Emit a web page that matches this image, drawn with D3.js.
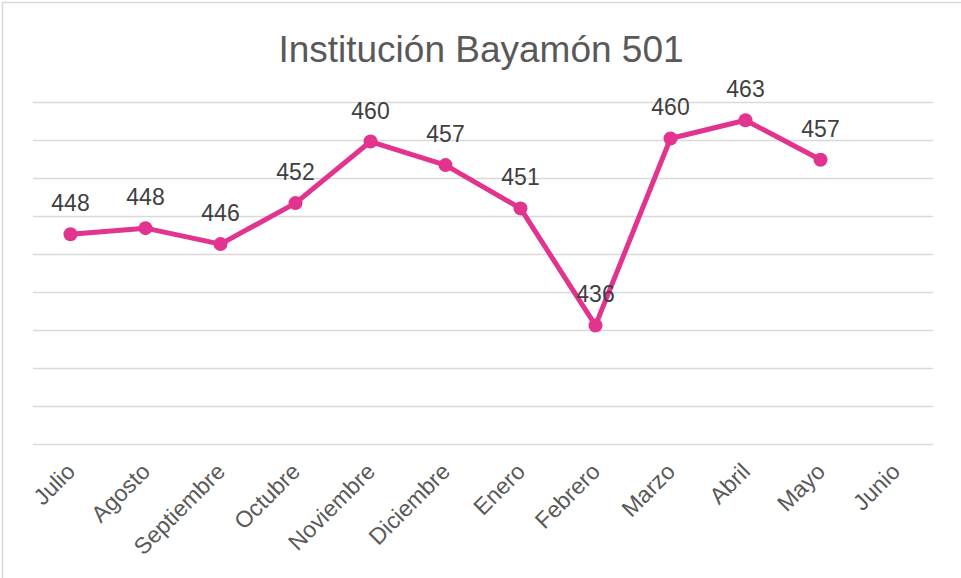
<!DOCTYPE html>
<html>
<head>
<meta charset="utf-8">
<script src="https://cdn.jsdelivr.net/npm/d3@7"></script>
<style>
  html, body { margin: 0; padding: 0; background: #fff; }
  svg { display: block; font-family: "Liberation Sans", Arial, sans-serif; }
</style>
</head>
<body>
<svg id="chart" width="961" height="578"></svg>
<script>
// Data
const months = ["Julio", "Agosto", "Septiembre", "Octubre", "Noviembre", "Diciembre",
  "Enero", "Febrero", "Marzo", "Abril", "Mayo", "Junio"];
const scores = [447.6, 448.4, 446.3, 451.7, 459.8, 456.7, 451.0, 435.6, 460.2, 462.6, 457.4, null];
const gridValues = [420, 425, 430, 435, 440, 445, 450, 455, 460, 465];
const chartTitle = "Institución Bayamón 501";

(function () {
  const svg = d3.select("#chart");
  const plotLeft = 33, plotRight = 933, plotTop = 102, plotBottom = 444;
  const pink = "#e2338f";

  // Outer frame (right and bottom edges fall outside the picture)
  svg.append("rect")
    .attr("x", 2.5).attr("y", 2.5)
    .attr("width", 1000).attr("height", 1000)
    .attr("fill", "none")
    .attr("stroke", "#d9d9d9")
    .attr("stroke-width", 1.5);

  const x = d3.scaleBand().domain(months).range([plotLeft, plotRight]);
  const y = d3.scaleLinear().domain([420, 465]).range([plotBottom, plotTop]);

  // Gridlines, no labels
  const grid = svg.append("g")
    .attr("transform", `translate(${plotLeft},0)`)
    .call(d3.axisLeft(y).tickValues(gridValues).tickSize(-(plotRight - plotLeft)).tickFormat(""));
  grid.select(".domain").remove();
  grid.selectAll(".tick line")
    .attr("stroke", "#d9d9d9")
    .attr("stroke-width", 1.3);

  // Category labels, rotated
  const xAxis = svg.append("g")
    .attr("transform", `translate(0,${plotBottom})`)
    .call(d3.axisBottom(x).tickSize(0));
  xAxis.select(".domain").remove();
  xAxis.selectAll(".tick text")
    .attr("font-size", 23)
    .attr("font-family", "'Liberation Sans', Arial, sans-serif")
    .attr("fill", "#595959")
    .attr("text-anchor", "end")
    .attr("dy", 0)
    .attr("y", 0)
    .attr("transform", "translate(6,29) rotate(-45)");

  // Title
  svg.append("text")
    .attr("x", 481)
    .attr("y", 62)
    .attr("text-anchor", "middle")
    .attr("font-size", 37)
    .attr("fill", "#595959")
    .text(chartTitle);

  const pts = months.map((m, i) => ({ m, v: scores[i] })).filter(d => d.v != null);
  const cx = d => x(d.m) + x.bandwidth() / 2;

  // Line
  svg.append("path")
    .datum(pts)
    .attr("fill", "none")
    .attr("stroke", pink)
    .attr("stroke-width", 5)
    .attr("stroke-linejoin", "round")
    .attr("stroke-linecap", "round")
    .attr("d", d3.line().x(cx).y(d => y(d.v)));

  // Markers
  svg.append("g")
    .selectAll("circle")
    .data(pts)
    .join("circle")
    .attr("cx", cx)
    .attr("cy", d => y(d.v))
    .attr("r", 7)
    .attr("fill", pink);

  // Data labels
  svg.append("g")
    .selectAll("text")
    .data(pts)
    .join("text")
    .attr("x", cx)
    .attr("y", d => y(d.v) - 23)
    .attr("text-anchor", "middle")
    .attr("font-size", 23)
    .attr("fill", "#404040")
    .text(d => Math.round(d.v));
})();
</script>
</body>
</html>
